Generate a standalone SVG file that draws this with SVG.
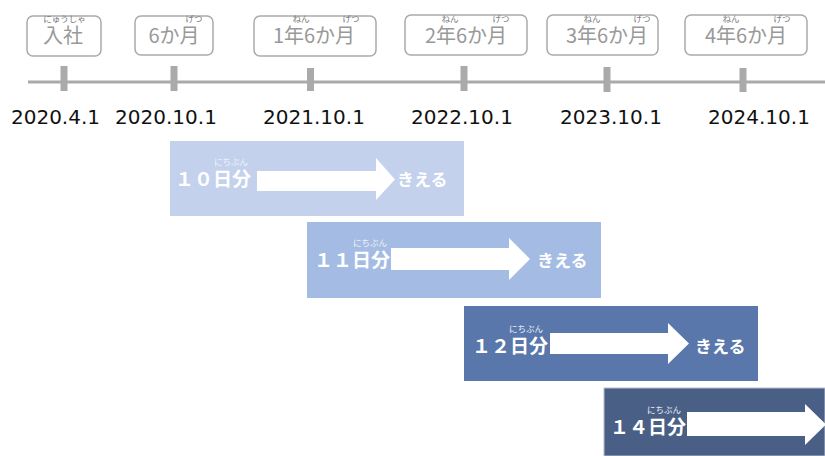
<svg xmlns="http://www.w3.org/2000/svg" width="825" height="456" viewBox="0 0 825 456">
<style>
  .box { fill: #ffffff; stroke: #aaaaaa; stroke-width: 1.5; }
  .boxt { font-family: "Noto Sans CJK JP", sans-serif; font-size: 20px; fill: #999999; text-anchor: middle; }
  .ruby { font-family: "Noto Sans CJK JP", sans-serif; font-size: 8.5px; fill: #777777; text-anchor: middle; }
  .date { font-family: "DejaVu Sans", sans-serif; font-size: 20px; fill: #111111; text-anchor: middle; }
  .tick { fill: #aaaaaa; }
  .lab { font-family: "Noto Sans CJK JP", sans-serif; font-size: 19px; font-weight: bold; fill: #ffffff; }
  .kie { font-family: "Noto Sans CJK JP", sans-serif; font-size: 17px; font-weight: bold; fill: #ffffff; }
  .rubyw { font-family: "Noto Sans CJK JP", sans-serif; font-size: 8.5px; fill: #f0f4fa; text-anchor: middle; }
  .arrow { fill: #ffffff; }
</style>

<g id="timeline">
  <rect x="28" y="80.5" width="797" height="3" fill="#aaaaaa"/>
  <rect class="tick" x="60.5" y="66" width="7" height="25"/>
  <rect class="tick" x="170.5" y="66" width="7" height="25"/>
  <rect class="tick" x="307" y="68" width="7" height="23"/>
  <rect class="tick" x="460.5" y="66" width="7" height="25"/>
  <rect class="tick" x="603.5" y="67" width="7" height="25"/>
  <rect class="tick" x="739.5" y="68" width="7" height="24"/>
</g>

<g id="box-nyusha">
  <rect class="box" x="27" y="16" width="74" height="40" rx="6"/>
  <text class="ruby" x="64.5" y="22">にゅうしゃ</text>
  <text class="boxt" x="63" y="43">入社</text>
</g>
<g id="box-6m">
  <rect class="box" x="135" y="16" width="78" height="39" rx="6"/>
  <text class="ruby" x="194" y="22">げつ</text>
  <text class="boxt" x="174" y="43">6か月</text>
</g>
<g id="box-1y6m">
  <rect class="box" x="254" y="16" width="122" height="40" rx="6"/>
  <text class="ruby" x="301" y="22">ねん</text>
  <text class="ruby" x="351" y="22">げつ</text>
  <text class="boxt" x="314" y="43">1年6か月</text>
</g>
<g id="box-2y6m">
  <rect class="box" x="405" y="15" width="122" height="40" rx="6"/>
  <text class="ruby" x="450" y="22">ねん</text>
  <text class="ruby" x="501" y="22">げつ</text>
  <text class="boxt" x="466" y="43">2年6か月</text>
</g>
<g id="box-3y6m">
  <rect class="box" x="547" y="15" width="111" height="40" rx="6"/>
  <text class="ruby" x="592" y="22">ねん</text>
  <text class="ruby" x="642" y="22">げつ</text>
  <text class="boxt" x="607" y="43">3年6か月</text>
</g>
<g id="box-4y6m">
  <rect class="box" x="685" y="15" width="122" height="40" rx="6"/>
  <text class="ruby" x="731" y="22">ねん</text>
  <text class="ruby" x="782" y="22">げつ</text>
  <text class="boxt" x="746" y="43">4年6か月</text>
</g>

<g id="dates">
  <text class="date" x="55.5" y="124">2020.4.1</text>
  <text class="date" x="166" y="124">2020.10.1</text>
  <text class="date" x="314" y="124">2021.10.1</text>
  <text class="date" x="462" y="124">2022.10.1</text>
  <text class="date" x="611" y="124">2023.10.1</text>
  <text class="date" x="759" y="124">2024.10.1</text>
</g>

<g id="bar-10">
  <rect x="170" y="141" width="294" height="75" fill="#c3d1ec"/>
  <text class="rubyw" x="231" y="165">にちぶん</text>
  <text class="lab" x="175" y="186">１０日分</text>
  <text class="kie" x="397" y="186">きえる</text>
</g>
<g id="bar-11">
  <rect x="307" y="222" width="294" height="76" fill="#a4bce3"/>
  <text class="rubyw" x="370" y="246">にちぶん</text>
  <text class="lab" x="314" y="267">１１日分</text>
  <text class="kie" x="537" y="267">きえる</text>
</g>
<g id="bar-12">
  <rect x="464" y="306" width="294" height="75" fill="#5977ab"/>
  <text class="rubyw" x="526" y="332">にちぶん</text>
  <text class="lab" x="472" y="353">１２日分</text>
  <text class="kie" x="695" y="353">きえる</text>
</g>
<g id="bar-14">
  <rect x="604" y="388" width="221" height="68" fill="#4a5f85" stroke="#b8c0cc" stroke-width="1"/>
  <text class="rubyw" x="664" y="413">にちぶん</text>
  <text class="lab" x="610" y="434">１４日分</text>
</g>

<g id="connectors">
  <polygon class="arrow" points="257,171 376,171 376,158 395,179.5 376,200 376,191 257,191"/>
  <polygon class="arrow" points="391,248 509,248 509,238 530,259 509,280 509,270 391,270"/>
  <polygon class="arrow" points="550,333 668,333 668,323 689,343.5 668,364 668,354 550,354"/>
  <polygon class="arrow" points="687,412 805,412 805,404 826,424.5 805,445 805,436 687,436"/>
</g>
</svg>
